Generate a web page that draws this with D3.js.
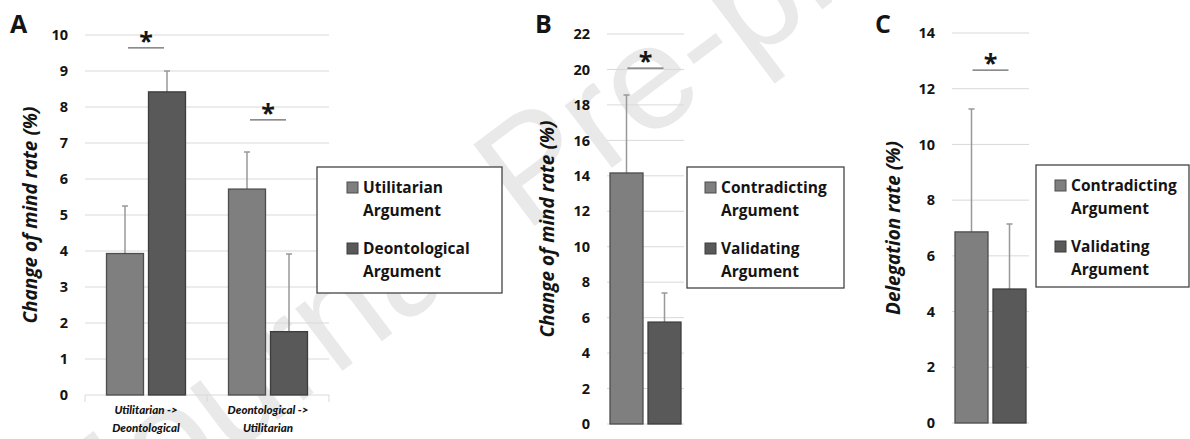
<!DOCTYPE html>
<html>
<head>
<meta charset="utf-8">
<script src="https://cdn.jsdelivr.net/npm/d3@7"></script>
<style>
  body { margin: 0; background: #fff; }
  svg { display: block; font-family: "Open Sans", "Liberation Sans", sans-serif; }
</style>
</head>
<body>
<svg id="chart" width="1190" height="439"></svg>
<script>
// panel A - change of mind by argument type
const seriesA = [["Utilitarian", "Argument"], ["Deontological", "Argument"]];
const categoriesA = [["Utilitarian ->", "Deontological"], ["Deontological ->", "Utilitarian"]];
const valuesA = [[3.93, 8.42], [5.72, 1.76]];
const errorsA = [[1.32, 0.58], [1.03, 2.16]];
const sigA = [9.64, 7.64];
const ticksA = [0, 1, 2, 3, 4, 5, 6, 7, 8, 9, 10];

// panel B - change of mind, contradicting vs validating
const seriesB = [["Contradicting", "Argument"], ["Validating", "Argument"]];
const valuesB = [[14.16, 5.75]];
const errorsB = [[4.40, 1.64]];
const sigB = [20.08];
const ticksB = [0, 2, 4, 6, 8, 10, 12, 14, 16, 18, 20, 22];

// panel C - delegation
const seriesC = [["Contradicting", "Argument"], ["Validating", "Argument"]];
const valuesC = [[6.86, 4.81]];
const errorsC = [[4.41, 2.33]];
const sigC = [12.67];
const ticksC = [0, 2, 4, 6, 8, 10, 12, 14];

const fills = ["#7f7f7f", "#595959"];
const strokes = ["#4d4d4d", "#3d3d3d"];
const ink = "#141414";

const svg = d3.select("#chart");

// watermark behind everything
svg.append("text")
  .attr("transform", "translate(530,165) rotate(-37)")
  .attr("text-anchor", "middle")
  .attr("dominant-baseline", "central")
  .attr("font-family", "'Liberation Sans', Arial, sans-serif")
  .attr("font-size", 148)
  .attr("fill", "#e9e9e9")
  .text("Journal Pre-proof");

function drawPanel(p) {
  const g = svg.append("g");
  const y = d3.scaleLinear().domain([0, d3.max(p.ticks)]).range([p.bottom, p.top]);
  const x = d3.scaleBand().domain(d3.range(p.values.length)).range([p.left, p.right]);

  // gridlines
  g.append("g").selectAll("line").data(p.ticks).join("line")
    .attr("x1", p.left).attr("x2", p.right)
    .attr("y1", d => y(d)).attr("y2", d => y(d))
    .attr("stroke", "#d9d9d9").attr("stroke-width", 1);

  // y tick labels
  const yAxis = g.append("g").attr("transform", `translate(${p.left},0)`)
    .call(d3.axisLeft(y).tickValues(p.ticks).tickSize(0).tickPadding(17));
  yAxis.select(".domain").remove();
  yAxis.selectAll("text")
    .attr("font-family", "'Open Sans', sans-serif")
    .attr("font-size", 14.5).attr("font-weight", "bold").attr("fill", ink);

  if (p.categories) {
    g.append("g").selectAll("line").data(d3.range(p.values.length + 1)).join("line")
      .attr("x1", i => p.left + i * x.bandwidth()).attr("x2", i => p.left + i * x.bandwidth())
      .attr("y1", p.bottom).attr("y2", p.bottom + 7)
      .attr("stroke", "#d9d9d9");
    const lab = g.append("g").selectAll("text").data(p.categories).join("text")
      .attr("text-anchor", "middle")
      .attr("font-family", "Lato, sans-serif")
      .attr("font-size", 11.5).attr("font-weight", "900").attr("font-style", "italic")
      .attr("fill", ink);
    lab.selectAll("tspan").data((d, i) => d.map(t => ({ t, i }))).join("tspan")
      .attr("x", d => x(d.i) + x.bandwidth() / 2)
      .attr("y", (d, j) => p.bottom + 19 + j * 18)
      .text(d => d.t);
  }

  const groups = g.append("g").selectAll("g").data(p.values).join("g");
  groups.each(function (vals, ci) {
    const cx = x(ci) + x.bandwidth() / 2;
    const w = 2 * p.barWidth + p.gap;
    const xs = d3.scaleBand().domain(d3.range(vals.length))
      .range([cx - w / 2, cx + w / 2])
      .paddingInner(p.gap / (p.barWidth + p.gap));
    const grp = d3.select(this);
    // error bars (upper only)
    grp.selectAll("path.err").data(vals).join("path").attr("class", "err")
      .attr("d", (v, si) => {
        const ex = xs(si) + xs.bandwidth() / 2;
        const top = y(v + p.errors[ci][si]);
        return `M${ex},${y(v)}V${top}M${ex - 3},${top}H${ex + 3}`;
      })
      .attr("stroke", "#999").attr("stroke-width", 1.5).attr("fill", "none");
    grp.selectAll("rect").data(vals).join("rect")
      .attr("x", (v, si) => xs(si))
      .attr("width", xs.bandwidth())
      .attr("y", v => y(v))
      .attr("height", v => p.bottom - y(v))
      .attr("fill", (v, si) => fills[si])
      .attr("stroke", (v, si) => strokes[si]).attr("stroke-width", 1.3);
    // significance marker
    const sy = y(p.sig[ci]);
    grp.append("line")
      .attr("x1", cx - 18).attr("x2", cx + 18).attr("y1", sy).attr("y2", sy)
      .attr("stroke", "#666").attr("stroke-width", 1.3);
    grp.append("text")
      .attr("x", cx).attr("y", sy + 2)
      .attr("text-anchor", "middle")
      .attr("font-size", 25).attr("font-weight", "bold").attr("fill", ink)
      .text("*");
  });

  // axis title
  g.append("text")
    .attr("transform", `translate(${p.titleX},${(p.top + p.bottom) / 2}) rotate(-90)`)
    .attr("text-anchor", "middle").attr("dominant-baseline", "central")
    .attr("font-size", 19).attr("font-weight", "bold").attr("font-style", "italic")
    .attr("fill", ink)
    .text(p.title);

  // panel letter
  g.append("text").attr("x", p.letterX).attr("y", 33)
    .attr("font-size", 25).attr("font-weight", "bold").attr("fill", ink)
    .text(p.letter);

  // legend
  const L = p.legend;
  const lg = g.append("g").attr("transform", `translate(${L.x},${L.y})`);
  lg.append("rect").attr("width", L.w).attr("height", L.h)
    .attr("fill", "#fff").attr("stroke", "#444").attr("stroke-width", 1.3);
  const items = lg.selectAll("g").data(p.series).join("g")
    .attr("transform", (d, i) => `translate(${L.pad},${15 + i * 61})`);
  items.append("rect").attr("width", 11).attr("height", 11)
    .attr("fill", (d, i) => fills[i]).attr("stroke", (d, i) => strokes[i]);
  items.append("text")
    .attr("font-size", 15.5).attr("font-weight", "bold").attr("fill", ink)
    .selectAll("tspan").data(d => d).join("tspan")
    .attr("x", 16).attr("y", (d, j) => 11 + j * 23)
    .text(d => d);
}

drawPanel({
  letter: "A", letterX: 10, title: "Change of mind rate (%)", titleX: 30,
  left: 85, right: 329, top: 35, bottom: 395, ticks: ticksA,
  values: valuesA, errors: errorsA, sig: sigA, categories: categoriesA,
  series: seriesA, barWidth: 37, gap: 5,
  legend: { x: 317, y: 167, w: 185, h: 126, pad: 30 }
});
drawPanel({
  letter: "B", letterX: 535, title: "Change of mind rate (%)", titleX: 547,
  left: 607, right: 684, top: 34, bottom: 424, ticks: ticksB,
  values: valuesB, errors: errorsB, sig: sigB,
  series: seriesB, barWidth: 33, gap: 5,
  legend: { x: 687, y: 167, w: 157, h: 121, pad: 18 }
});
drawPanel({
  letter: "C", letterX: 875, title: "Delegation rate (%)", titleX: 893,
  left: 952, right: 1029, top: 33, bottom: 423, ticks: ticksC,
  values: valuesC, errors: errorsC, sig: sigC,
  series: seriesC, barWidth: 33, gap: 5,
  legend: { x: 1036, y: 165, w: 153, h: 122, pad: 19 }
});
</script>
</body>
</html>
